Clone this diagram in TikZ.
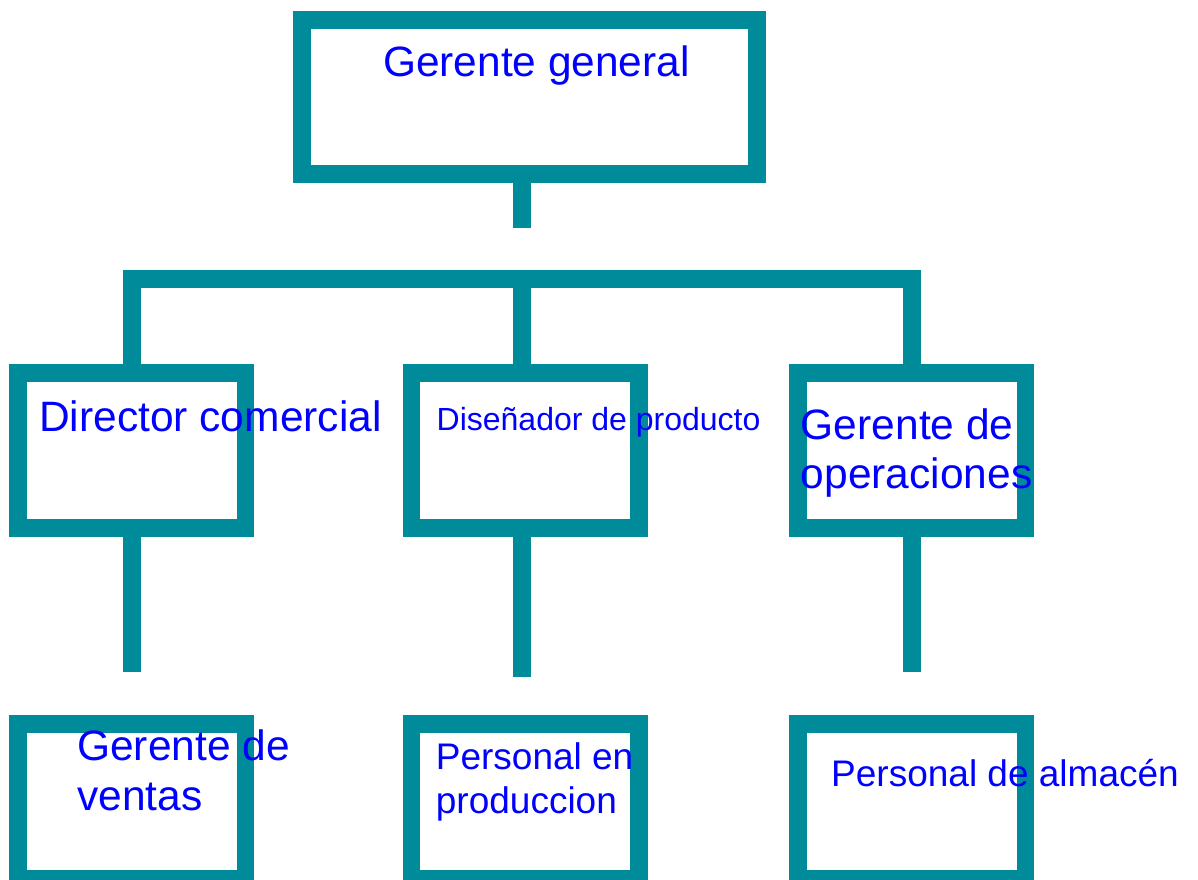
\documentclass[tikz,border=0pt]{standalone}
\usepackage{fontspec}
\setmainfont{Liberation Sans}
\definecolor{orgteal}{RGB}{0,139,154}
\definecolor{orgblue}{RGB}{0,0,255}
\tikzset{
  box/.style = {draw = orgteal, line width = 17.5pt, rectangle, inner sep = 0pt, minimum width = 227.5pt, minimum height = 155pt},
  link/.style = {draw = orgteal, line width = 17.5pt, line join = miter},
  lbl/.style = {text = orgblue, inner sep = 0pt, anchor = base west, align = left}
}
\begin{document}
\begin{tikzpicture}[x = 1pt, y = -1pt]
\useasboundingbox (0,0) rectangle (1198,879);
% boxes
\node[box, minimum width = 455pt, minimum height = 154pt] (gg) at (529.5,97) {};
\node[box] (dc) at (131.75,450.5) {};
\node[box] (dp) at (525.1,450.5) {};
\node[box] (go) at (911.9,450.5) {};
\node[box] (gv) at (131.75,801.5) {};
\node[box] (pp) at (525.1,801.5) {};
\node[box] (pa) at (911.9,801.5) {};
% connectors
\coordinate (top) at (522,228);
\coordinate (bar) at (522,279);
\coordinate (e1) at (131.75,671.7);
\coordinate (e2) at (522,677.3);
\coordinate (e3) at (912,671.7);
\draw[link] (gg.south -| top) -- (top);
\draw[link] (dc.north) -- (dc.north |- bar) -- (go.north |- bar) -- (go.north);
\draw[link] (bar) -- (bar |- dp.north);
\draw[link] (dc.south) -- (e1);
\draw[link] (dp.south -| e2) -- (e2);
\draw[link] (go.south -| e3) -- (e3);
% labels (multi-line ones sit on the baseline of their last line)
\node[lbl, font = \fontsize{42.4}{49}\selectfont] (tgg) at (383,76) {Gerente general};
\node[lbl, font = \fontsize{42.5}{49}\selectfont] (tdc) at (39,431.7) {Director comercial};
\node[lbl, font = \fontsize{32}{38}\selectfont] (tdp) at (436.5,430.7) {Diseñador de producto};
\node[lbl, font = \fontsize{42.5}{49}\selectfont] (tgo) at (800.7,488) {Gerente de\\operaciones};
\node[lbl, font = \fontsize{42.5}{50}\selectfont] (tgv) at (77,810.7) {Gerente de\\ventas};
\node[lbl, font = \fontsize{37}{44}\selectfont] (tpp) at (435.7,813.3) {Personal en\\produccion};
\node[lbl, font = \fontsize{37}{44}\selectfont] (tpa) at (831,786) {Personal de almacén};
\end{tikzpicture}
\end{document}
